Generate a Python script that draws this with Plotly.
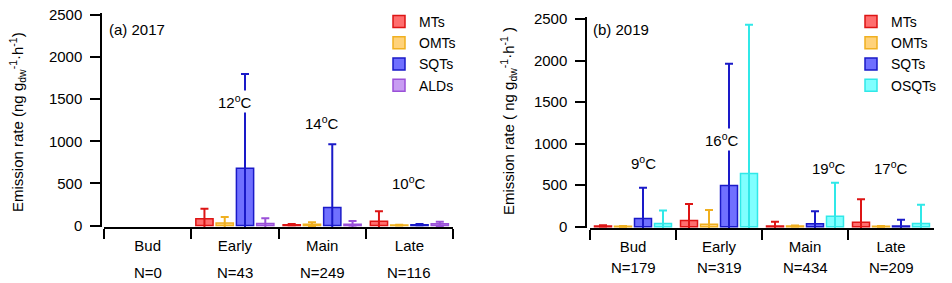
import plotly.graph_objects as go

stages = ["Bud", "Early", "Main", "Late"]

# 2017 panel
n_2017 = ["N=0", "N=43", "N=249", "N=116"]
mts_2017 = [None, 80, 10, 50]
mts_2017_err = [None, 120, 8, 120]
omts_2017 = [None, 30, 15, 5]
omts_2017_err = [None, 70, 25, 5]
sqts_2017 = [None, 680, 215, 10]
sqts_2017_err = [None, 1120, 750, 8]
alds_2017 = [None, 25, 15, 20]
alds_2017_err = [None, 60, 40, 25]
temps_2017 = ["12<sup>o</sup>C", "14<sup>o</sup>C", "10<sup>o</sup>C"]
temps_2017_stage = ["Early", "Main", "Late"]
temps_2017_y = [1470, 1220, 507]

# 2019 panel
n_2019 = ["N=179", "N=319", "N=434", "N=209"]
mts_2019 = [10, 75, 10, 55]
mts_2019_err = [8, 200, 50, 275]
omts_2019 = [5, 30, 10, 5]
omts_2019_err = [5, 170, 6, 5]
sqts_2019 = [100, 495, 35, 10]
sqts_2019_err = [370, 1465, 150, 75]
osqts_2019 = [40, 640, 125, 40]
osqts_2019_err = [155, 1790, 405, 225]
temps_2019 = ["9<sup>o</sup>C", "16<sup>o</sup>C", "19<sup>o</sup>C", "17<sup>o</sup>C"]
temps_2019_stage = ["Bud", "Early", "Main", "Late"]
temps_2019_y = [778, 1050, 718, 718]
temps_2019_xshift = [10, 3, 24, 0]

FONT = "Liberation Sans, Arial, sans-serif"
W, H = 952, 283

styles = {
    "MTs": ("#ff6e6e", "#dd1515"),
    "OMTs": ("#ffd27a", "#f0b020"),
    "SQTs": ("#7070ff", "#1a1ac8"),
    "ALDs": ("#c89cf2", "#9a50d8"),
    "OSQTs": ("#80ffff", "#30e8e8"),
}

fig = go.Figure()

def add_bar(name, vals, errs, xa, ya, legend):
    fill, line = styles[name]
    fig.add_trace(go.Bar(
        x=stages, y=vals, name=name, xaxis=xa, yaxis=ya, legend=legend,
        marker=dict(color=fill, line=dict(color=line, width=1.5)),
        error_y=dict(type="data", array=errs, symmetric=True, color=line,
                     thickness=2, width=4),
    ))

add_bar("MTs", mts_2017, mts_2017_err, "x", "y", "legend")
add_bar("OMTs", omts_2017, omts_2017_err, "x", "y", "legend")
add_bar("SQTs", sqts_2017, sqts_2017_err, "x", "y", "legend")
add_bar("ALDs", alds_2017, alds_2017_err, "x", "y", "legend")

add_bar("MTs", mts_2019, mts_2019_err, "x2", "y2", "legend2")
add_bar("OMTs", omts_2019, omts_2019_err, "x2", "y2", "legend2")
add_bar("SQTs", sqts_2019, sqts_2019_err, "x2", "y2", "legend2")
add_bar("OSQTs", osqts_2019, osqts_2019_err, "x2", "y2", "legend2")

def py(p):
    return 1 - p / H

def px(p):
    return p / W

xcommon = dict(type="category", categoryorder="array", categoryarray=stages,
               tickson="boundaries", ticks="outside", ticklen=10, tickwidth=1.5,
               tickcolor="black", showline=True, linecolor="black", linewidth=1.5,
               showgrid=False, zeroline=False, automargin=False, ticklabelstandoff=4,
               tickfont=dict(family=FONT, size=15, color="black"))
ycommon = dict(range=[-20, 2520], tickvals=[0, 500, 1000, 1500, 2000, 2500],
               ticks="outside", ticklen=10, tickwidth=1.5, tickcolor="black",
               showline=True, linecolor="black", linewidth=1.5,
               showgrid=False, zeroline=False, anchor="free", automargin=False,
               ticklabelstandoff=5,
               tickfont=dict(family=FONT, size=15, color="black"))

fig.update_layout(
    width=W, height=H,
    margin=dict(l=0, r=0, t=0, b=0, autoexpand=False),
    paper_bgcolor="white", plot_bgcolor="white",
    barmode="group", bargap=0.07, bargroupgap=0.15,
    font=dict(family=FONT, size=15, color="black"),
    xaxis=dict(domain=[px(104), px(453)], anchor="y", **xcommon),
    yaxis=dict(domain=[py(227.2), py(13.3)], position=px(101), **ycommon),
    xaxis2=dict(domain=[px(590), px(934)], anchor="y2", **xcommon),
    yaxis2=dict(domain=[py(228.4), py(17.3)], position=px(586), **ycommon),
    legend=dict(x=px(379), y=py(6), xanchor="left", yanchor="top",
                bgcolor="rgba(0,0,0,0)", font=dict(family=FONT, size=14),
                tracegroupgap=0, itemwidth=30),
    legend2=dict(x=px(851), y=py(6), xanchor="left", yanchor="top",
                 bgcolor="rgba(0,0,0,0)", font=dict(family=FONT, size=14),
                 tracegroupgap=0, itemwidth=30),
)

ann = []
# panel labels
ann.append(dict(text="(a) 2017", x=px(107), y=py(29), xref="paper", yref="paper",
                xanchor="left", yanchor="middle", showarrow=False,
                font=dict(family=FONT, size=15)))
ann.append(dict(text="(b) 2019", x=px(591), y=py(30), xref="paper", yref="paper",
                xanchor="left", yanchor="middle", showarrow=False,
                font=dict(family=FONT, size=15)))
# y titles
ann.append(dict(text="Emission rate (ng g<sub>dw</sub><sup>-1</sup>·h<sup>-1</sup>)",
                x=px(18), y=py(122), xref="paper", yref="paper", textangle=-90,
                xanchor="center", yanchor="middle", showarrow=False,
                font=dict(family=FONT, size=15)))
ann.append(dict(text="Emission rate ( ng g<sub>dw</sub><sup>-1</sup>·h<sup>-1</sup> )",
                x=px(509), y=py(121), xref="paper", yref="paper", textangle=-90,
                xanchor="center", yanchor="middle", showarrow=False,
                font=dict(family=FONT, size=15)))
# N labels
for s, n in zip(stages, n_2017):
    ann.append(dict(text=n, x=s, xref="x", y=py(272), yref="paper",
                    yanchor="middle", showarrow=False, font=dict(family=FONT, size=15)))
for s, n in zip(stages, n_2019):
    ann.append(dict(text=n, x=s, xref="x2", y=py(267), yref="paper",
                    yanchor="middle", showarrow=False, font=dict(family=FONT, size=15)))
# temperatures
for s, t, yv in zip(temps_2017_stage, temps_2017, temps_2017_y):
    ann.append(dict(text=t, x=s, y=yv, xref="x", yref="y", showarrow=False,
                    bgcolor="white", font=dict(family=FONT, size=15)))
for s, t, yv, xs in zip(temps_2019_stage, temps_2019, temps_2019_y, temps_2019_xshift):
    ann.append(dict(text=t, x=s, y=yv, xref="x2", yref="y2", xshift=xs, showarrow=False,
                    bgcolor="white", font=dict(family=FONT, size=15)))

fig.update_layout(annotations=ann)
fig.write_html("out.html", config={"displayModeBar": False},
               post_script="document.body.style.margin='0';document.body.style.overflow='hidden';")
